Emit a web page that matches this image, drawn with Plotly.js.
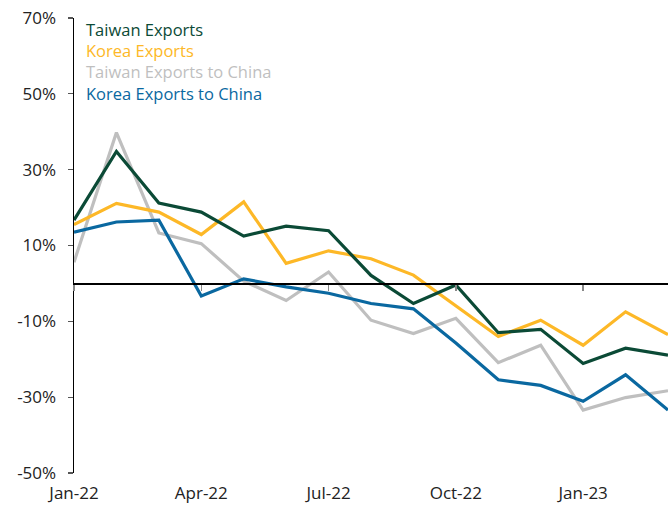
<!DOCTYPE html>
<html>
<head>
<meta charset="utf-8">
<script src="https://cdn.plot.ly/plotly-3.0.1.min.js"></script>
<style>html,body{margin:0;padding:0;background:#fff;}#chart{width:668px;height:506px;}</style>
</head>
<body>
<div id="chart"></div>
<script>
const months = ['Jan-22','Feb-22','Mar-22','Apr-22','May-22','Jun-22','Jul-22','Aug-22','Sep-22','Oct-22','Nov-22','Dec-22','Jan-23','Feb-23','Mar-23'];
const tickMonths = ['Jan-22','Apr-22','Jul-22','Oct-22','Jan-23'];
const yTicks = [70, 50, 30, 10, -10, -30, -50];
const yTickText = ['70%', '50%', '30%', '10%', '-10%', '-30%', '-50%'];

const taiwanExports = [16.7, 34.8, 21.2, 18.8, 12.5, 15.1, 13.9, 2.1, -5.3, -0.4, -13.0, -12.1, -21.1, -17.1, -18.9];
const koreaExports = [15.5, 21.1, 18.8, 12.9, 21.5, 5.3, 8.6, 6.5, 2.2, -6.0, -14.0, -9.7, -16.3, -7.5, -13.5];
const taiwanToChina = [5.6, 39.8, 13.3, 10.5, 0.6, -4.5, 3.0, -9.7, -13.2, -9.2, -20.9, -16.3, -33.4, -30.1, -28.3];
const koreaToChina = [13.5, 16.2, 16.7, -3.3, 1.2, -0.9, -2.6, -5.3, -6.7, -15.7, -25.4, -26.9, -31.1, -24.1, -33.4];

const seriesNames = ['Taiwan Exports', 'Korea Exports', 'Taiwan Exports to China', 'Korea Exports to China'];
const seriesData = [taiwanExports, koreaExports, taiwanToChina, koreaToChina];
const colors = ['#0b4a36', '#fdb827', '#bfbfbf', '#0a68a0'];

const font = '"Open Sans", "Noto Sans", sans-serif';

// draw order: gray, blue, yellow, green on top
const order = [2, 3, 1, 0];
const traces = order.map(i => ({
  x: months, y: seriesData[i], type: 'scatter', mode: 'lines',
  name: seriesNames[i], line: {color: colors[i], width: 3.2},
  hoverinfo: 'skip', showlegend: false
}));
// invisible helper trace for the zero-line tick axis
traces.push({x: months, y: taiwanExports, xaxis: 'x2', type: 'scatter', mode: 'lines',
  line: {width: 0, color: 'rgba(0,0,0,0)'}, hoverinfo: 'skip', showlegend: false});

const legendY = [0.975, 0.928, 0.882, 0.834];
const annotations = seriesNames.map((n, i) => ({
  text: n, xref: 'paper', yref: 'paper', x: 0.019, y: legendY[i],
  xanchor: 'left', yanchor: 'middle', showarrow: false, borderpad: 0,
  font: {family: font, size: 16.5, color: colors[i]}
}));

const layout = {
  width: 668, height: 506,
  margin: {l: 74, r: 0, t: 18, b: 33},
  paper_bgcolor: '#fff', plot_bgcolor: '#fff',
  showlegend: false,
  font: {family: font, size: 17, color: '#222'},
  xaxis: {
    type: 'category', categoryorder: 'array', categoryarray: months,
    range: [0, 14], tickvals: tickMonths, ticktext: tickMonths,
    showgrid: false, zeroline: false, showline: false, ticks: '',
    ticklabelstandoff: 8,
    tickfont: {family: font, size: 17, color: '#222'}
  },
  xaxis2: {
    type: 'category', categoryorder: 'array', categoryarray: months,
    overlaying: 'x', anchor: 'free', position: 50 / 120,
    range: [0, 14], tickvals: tickMonths, showticklabels: false,
    ticks: 'outside', ticklen: 6, tickcolor: '#888', tickwidth: 1.5,
    showline: true, linecolor: '#000', linewidth: 1.5, showgrid: false, zeroline: false
  },
  yaxis: {
    range: [-50, 70], tickvals: yTicks, ticktext: yTickText,
    showgrid: false, zeroline: false, showline: true, linecolor: '#000', linewidth: 1.5,
    ticks: 'outside', ticklen: 5, tickcolor: '#555', tickwidth: 1.2,
    ticklabelstandoff: 8,
    tickfont: {family: font, size: 17, color: '#222'}
  },
  annotations: annotations
};

Plotly.newPlot('chart', traces, layout, {staticPlot: true, displayModeBar: false});
</script>
</body>
</html>
